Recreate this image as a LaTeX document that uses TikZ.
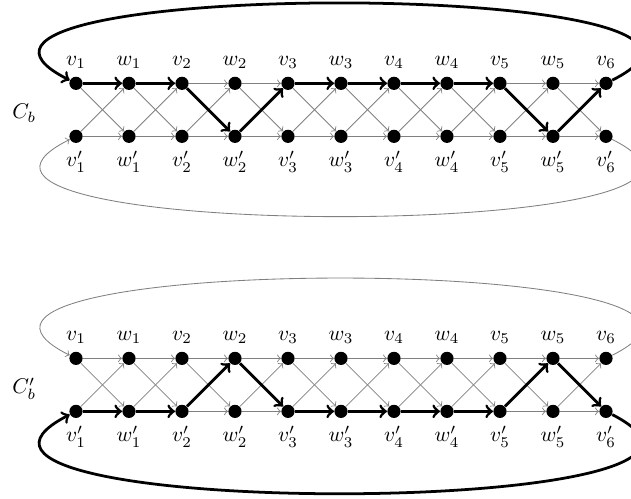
\documentclass[tikz,border=0pt]{standalone}
\begin{document}
\begin{tikzpicture}[x=0.875cm,y=0.875cm,
  dot/.style={circle,fill=black,inner sep=0pt,minimum size=6.2pt},
  gedge/.style={->,gray,line width=0.4pt},
  bedge/.style={->,black,line width=1.3pt},
  gloop/.style={->,gray,line width=0.4pt},
  bloop/.style={->,black,line width=1.3pt}
]
\useasboundingbox (-1.434,1.572) rectangle (10.472,-7.843);
\foreach \d/\y in {A/0,B/-5.19} {
  \foreach \i in {1,...,11} {
    \pgfmathtruncatemacro\k{(\i+1)/2}
    \pgfmathtruncatemacro\odd{mod(\i,2)}
    \ifnum\odd=1 \def\lt{v}\else\def\lt{w}\fi
    \node[dot,label={above:$\lt_{\k}$}] (t\d\i) at (\i-1,\y) {};
    \node[dot,label={below:$\lt'_{\k}$}] (b\d\i) at (\i-1,\y-1) {};
  }
}
\foreach \d in {A,B} {
  \foreach \i [evaluate=\i as \j using int(\i+1)] in {1,...,10} {
    \draw[gedge] (t\d\i) -- (t\d\j);
    \draw[gedge] (b\d\i) -- (b\d\j);
    \draw[gedge] (t\d\i) -- (b\d\j);
    \draw[gedge] (b\d\i) -- (t\d\j);
  }
}
% thick cycle, top diagram
\draw[bedge] (tA1) -- (tA2);
\draw[bedge] (tA2) -- (tA3);
\draw[bedge] (tA3) -- (bA4);
\draw[bedge] (bA4) -- (tA5);
\draw[bedge] (tA5) -- (tA6);
\draw[bedge] (tA6) -- (tA7);
\draw[bedge] (tA7) -- (tA8);
\draw[bedge] (tA8) -- (tA9);
\draw[bedge] (tA9) -- (bA10);
\draw[bedge] (bA10) -- (tA11);
\draw[bloop] (tA11) .. controls +(4,2) and +(-4,2) .. (tA1);
\draw[gloop] (bA11) .. controls +(4,-2) and +(-4,-2) .. (bA1);
% thick cycle, bottom diagram
\draw[bedge] (bB1) -- (bB2);
\draw[bedge] (bB2) -- (bB3);
\draw[bedge] (bB3) -- (tB4);
\draw[bedge] (tB4) -- (bB5);
\draw[bedge] (bB5) -- (bB6);
\draw[bedge] (bB6) -- (bB7);
\draw[bedge] (bB7) -- (bB8);
\draw[bedge] (bB8) -- (bB9);
\draw[bedge] (bB9) -- (tB10);
\draw[bedge] (tB10) -- (bB11);
\draw[gloop] (tB11) .. controls +(4,2) and +(-4,2) .. (tB1);
\draw[bloop] (bB11) .. controls +(4,-2.05) and +(-4,-2.05) .. (bB1);
\node[anchor=base west,inner sep=0pt] (cb) at (-1.21,-0.67) {$C_b$};
\node[anchor=base west,inner sep=0pt] (cbp) at (-1.21,-5.86) {$C'_b$};
\end{tikzpicture}
\end{document}
